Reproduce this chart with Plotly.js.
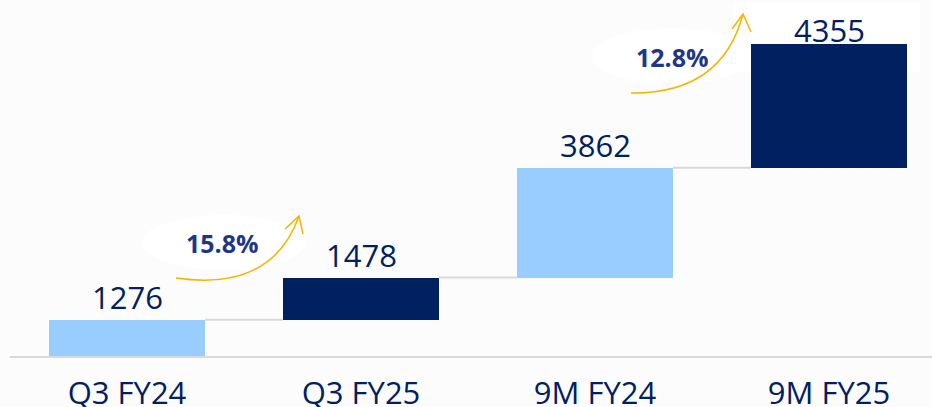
<!DOCTYPE html>
<html>
<head>
<meta charset="utf-8">
<script src="https://cdn.plot.ly/plotly-3.0.1.min.js"></script>
<style>html,body{margin:0;padding:0;background:#fcfcfc;}#chart{width:932px;height:407px;}</style>
</head>
<body>
<div id="chart"></div>
<script>
// ---- data ----
const categories = ["Q3 FY24", "Q3 FY25", "9M FY24", "9M FY25"];
const values = [1276, 1478, 3862, 4355];
const barColors = ["#99ccff", "#002060", "#99ccff", "#002060"];
const growthLabels = ["15.8%", "12.8%"];

// ---- derived ----
const xs = categories.map((_, i) => i);
const bases = [];
let run = 0;
values.forEach(v => { bases.push(run); run += v; });
const tops = values.map((v, i) => bases[i] + v);
const barWidth = 0.667;

// pixel helpers for decorations (plot area: x 10..932, y 0..356)
const PXPERUNIT = 0.028466;
const X = px => (px - 127) / 234;
const Y = py => (356 - py) / PXPERUNIT;

const traces = [];
// connectors
for (let i = 0; i < values.length - 1; i++) {
  traces.push({
    type: 'scatter', mode: 'lines',
    x: [xs[i] + barWidth / 2, xs[i + 1] - barWidth / 2],
    y: [tops[i], tops[i]],
    line: {color: '#d9d9d9', width: 2},
    hoverinfo: 'skip', showlegend: false
  });
}
traces.push({
  type: 'bar', x: xs, y: values, base: bases, width: barWidth,
  marker: {color: barColors, line: {width: 0}},
  hoverinfo: 'skip', showlegend: false
});

const labelFont = {family: 'Open Sans, sans-serif', size: 31, color: '#002060'};
const annotations = values.map((v, i) => ({
  x: xs[i], y: tops[i], xref: 'x', yref: 'y',
  text: String(v), showarrow: false, yanchor: 'bottom',
  yshift: i === values.length - 1 ? -9 : 0,
  font: labelFont
}));
const pctFont = {family: 'Open Sans, sans-serif', size: 25, color: '#1f3685', weight: 'bold'};
annotations.push({x: X(222), y: Y(243), xref: 'x', yref: 'y', text: '<b>' + growthLabels[0] + '</b>', showarrow: false, font: pctFont});
annotations.push({x: X(672), y: Y(57), xref: 'x', yref: 'y', text: '<b>' + growthLabels[1] + '</b>', showarrow: false, font: pctFont});

function pt(px, py) { return X(px) + ',' + Y(py); }
const gold = '#f5b400';
const shapes = [
  {type: 'circle', xref: 'x', yref: 'y', x0: X(142), x1: X(305), y0: Y(215), y1: Y(270), fillcolor: '#ffffff', line: {width: 0}, layer: 'below'},
  {type: 'circle', xref: 'x', yref: 'y', x0: X(592), x1: X(752), y0: Y(28), y1: Y(84), fillcolor: '#ffffff', line: {width: 0}, layer: 'below'},
  {type: 'rect', xref: 'x', yref: 'y', x0: X(733), x1: X(920), y0: Y(3), y1: Y(72), fillcolor: '#ffffff', line: {width: 0}, layer: 'below'},
  {type: 'path', xref: 'x', yref: 'y', path: 'M' + pt(176, 278) + ' Q' + pt(272, 292) + ' ' + pt(299, 216), line: {color: gold, width: 1.5}},
  {type: 'path', xref: 'x', yref: 'y', path: 'M' + pt(285, 229) + ' L' + pt(299, 216) + ' L' + pt(303, 234), line: {color: gold, width: 1.5}},
  {type: 'path', xref: 'x', yref: 'y', path: 'M' + pt(631, 93) + ' Q' + pt(722, 94) + ' ' + pt(743, 14), line: {color: gold, width: 1.5}},
  {type: 'path', xref: 'x', yref: 'y', path: 'M' + pt(732, 29) + ' L' + pt(743, 14) + ' L' + pt(751, 32), line: {color: gold, width: 1.5}}
];

const layout = {
  width: 932, height: 407,
  margin: {l: 10, r: 0, t: 0, b: 51, pad: 0},
  paper_bgcolor: '#fcfcfc', plot_bgcolor: 'rgba(0,0,0,0)',
  xaxis: {
    range: [-0.5, -0.5 + 922 / 234], tickvals: xs, ticktext: categories,
    showgrid: false, zeroline: false, showline: true, linecolor: '#d9d9d9', linewidth: 2,
    ticks: '', ticklabelstandoff: 9,
    tickfont: {family: 'Open Sans, sans-serif', size: 31, color: '#002060'},
    fixedrange: true
  },
  yaxis: {range: [0, 356 / PXPERUNIT], visible: false, showgrid: false, zeroline: false, fixedrange: true},
  shapes: shapes, annotations: annotations, bargap: 0
};
Plotly.newPlot('chart', traces, layout, {displayModeBar: false, staticPlot: true});
</script>
</body>
</html>
